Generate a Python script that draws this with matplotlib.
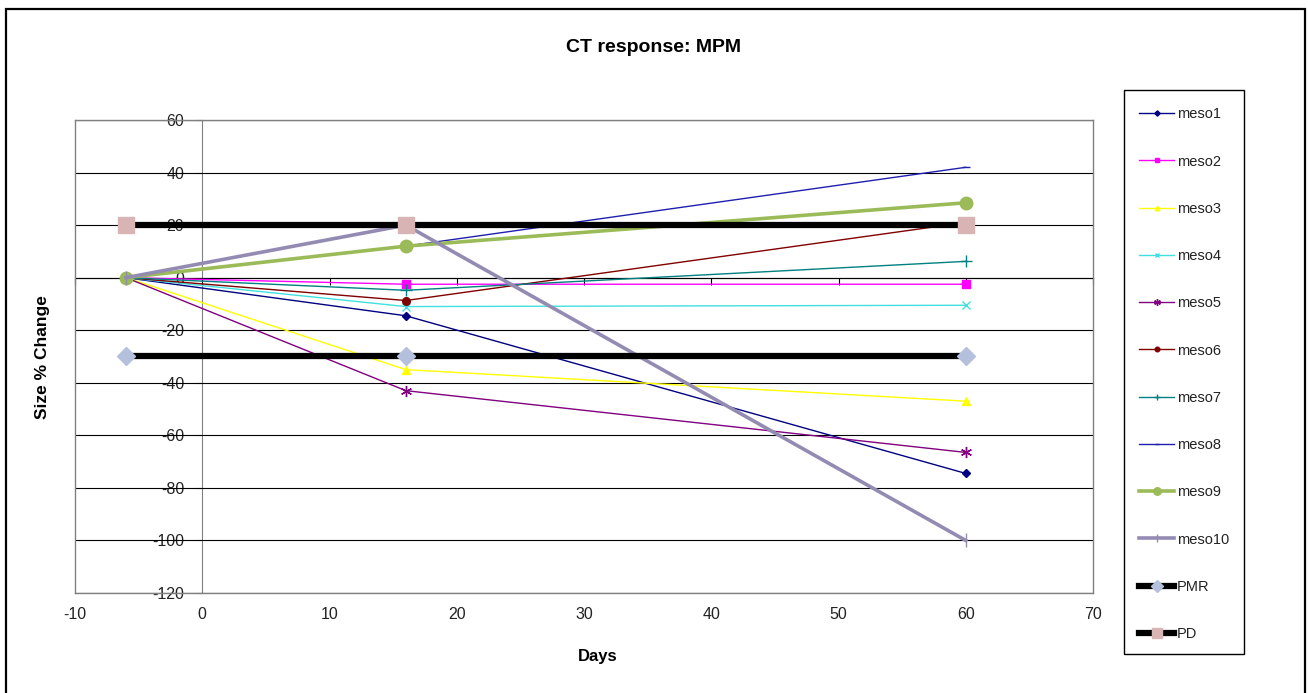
import matplotlib
matplotlib.use('Agg')
import matplotlib.pyplot as plt
from matplotlib.patches import Rectangle

plt.rcParams['font.family'] = ['Liberation Sans', 'DejaVu Sans']
plt.rcParams['axes.unicode_minus'] = False

# measurement days and % size change per patient
days = [-6, 16, 60]
meso1 = [0, -14.5, -74.5]
meso2 = [0, -2.5, -2.5]
meso3 = [0, -35, -47]
meso4 = [0, -11, -10.5]
meso5 = [0, -43, -66.5]
meso6 = [0, -8.7, 21]
meso7 = [0, -4.8, 6.2]
meso8 = [0, 12, 42]
meso9 = [0, 12, 28.5]
meso10 = [0, 20, -100]
# response thresholds
pmr = [-30, -30, -30]
pd_line = [20, 20, 20]

series = [meso1, meso2, meso3, meso4, meso5, meso6, meso7, meso8, meso9, meso10, pmr, pd_line]
names = ['meso1', 'meso2', 'meso3', 'meso4', 'meso5', 'meso6', 'meso7',
         'meso8', 'meso9', 'meso10', 'PMR', 'PD']

# color, linewidth, marker, markersize, marker face
styles = [
    ('#000080', 1.0, 'D', 4.5, '#000080'),
    ('#FF00FF', 1.0, 's', 5.5, '#FF00FF'),
    ('#FFFF00', 1.0, '^', 5.5, '#FFFF00'),
    ('#40E0E0', 1.0, 'x', 6, '#40E0E0'),
    ('#800080', 1.0, (6, 2, 0), 8, '#800080'),
    ('#800000', 1.0, 'o', 5.5, '#800000'),
    ('#008080', 1.0, '+', 8, '#008080'),
    ('#1F1FAF', 1.0, '_', 6, '#1F1FAF'),
    ('#9BBB59', 2.6, 'o', 9, '#9BBB59'),
    ('#948BB3', 2.6, '|', 10, '#948BB3'),
    ('#000000', 4.5, 'D', 9.5, '#B4C0DC'),
    ('#000000', 4.5, 's', 11, '#D8B4B4'),
]

W, H = 1308, 693
fig = plt.figure(figsize=(W / 100, H / 100), dpi=100)


def fx(px):
    return px / W


def fy(py):
    return 1 - py / H


ax = fig.add_axes([fx(75), fy(593), fx(1093) - fx(75), fy(120) - fy(593)])
ax.set_xlim(-10, 70)
ax.set_ylim(-120, 60)
ax.set_xticks(range(-10, 71, 10))
ax.tick_params(axis='x', length=0, pad=10, labelsize=11.5, labelcolor='#222222')
ax.set_yticks(range(-120, 61, 20))
ax.tick_params(axis='y', length=0, labelleft=False)
ax.grid(axis='y', color='black', lw=0.8)
ax.set_axisbelow(True)
for sp in ax.spines.values():
    sp.set_color('#808080')
    sp.set_linewidth(1.0)

# value axis crossing at day 0
sy = ax.secondary_yaxis(0.125)
sy.set_yticks(range(-120, 61, 20))
sy.tick_params(length=5, color='#808080', labelsize=11.5, labelcolor='#222222', pad=8)
sy.spines['left'].set_color('#808080')

# category axis crossing at 0 %
sx = ax.secondary_xaxis(2 / 3)
sx.set_xticks(range(-10, 71, 10))
sx.tick_params(direction='in', length=5, color='black', labeltop=False, labelbottom=False)
sx.spines['top'].set_color('black')
sx.spines['top'].set_linewidth(0.8)

handles = []
for i, (vals, name, st) in enumerate(zip(series, names, styles)):
    col, lw, mk, ms, mfc = st
    ln, = ax.plot(days, vals, color=col, lw=lw, marker=mk, ms=ms,
                  mfc=mfc, mec=mfc, mew=1.0, zorder=2 + i * 0.1, label=name)
    handles.append(ln)

leg = fig.legend(handles, names, loc='upper left',
                 bbox_to_anchor=(fx(1132), fy(100)), frameon=False,
                 fontsize=10.5, labelspacing=2.28, handlelength=2.4,
                 handletextpad=0.2, markerscale=0.6, borderpad=0)
for t in leg.get_texts():
    t.set_color('#222222')

fig.add_artist(Rectangle((fx(1124), fy(654)), fx(1244) - fx(1124), fy(90) - fy(654),
                         transform=fig.transFigure, fill=False, ec='black', lw=1.0))
fig.add_artist(Rectangle((fx(6), -0.01), fx(1305) - fx(6), fy(9) + 0.01,
                         transform=fig.transFigure, fill=False, ec='black', lw=1.6))

fig.text(fx(654), fy(47), 'CT response: MPM', ha='center', va='center',
         fontsize=14, fontweight='bold')
fig.text(fx(42), fy(357), 'Size % Change', rotation=90, ha='center', va='center',
         fontsize=12.5, fontweight='bold')
fig.text(fx(598), fy(657), 'Days', ha='center', va='center',
         fontsize=12, fontweight='bold')

fig.savefig('out.png', dpi=100)
